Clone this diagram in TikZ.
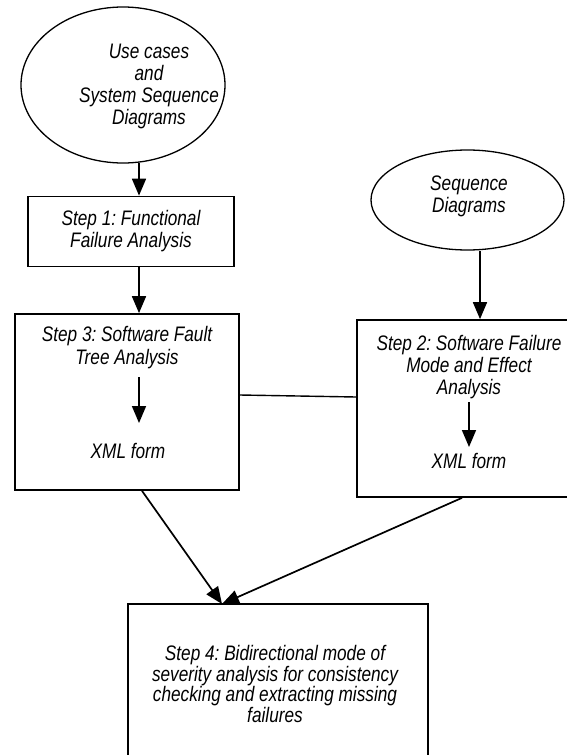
\documentclass[tikz,border=0pt]{standalone}
\usepackage{fontspec}
\setmainfont{Liberation Sans}[FakeStretch=0.82]
\usetikzlibrary{arrows.meta,shapes.geometric}
\frenchspacing

\begin{document}
\begin{tikzpicture}[x=1pt,y=-1pt,
    txt/.style={font=\fontsize{21}{22}\selectfont\itshape, align=center, inner sep=0pt},
    blk/.style={draw, line width=1.7pt, inner sep=0pt},
    oval/.style={draw, ellipse, line width=1.3pt, inner sep=0pt},
    arr/.style={line width=1.7pt, -{Triangle[length=17pt,width=14pt]}},
    lnk/.style={line width=1.4pt}]

\useasboundingbox (0,0) rectangle (567,755);
\clip (0,0) rectangle (567,755);

% Исходные данные
\node[oval, minimum width=204, minimum height=156] (uc) at (123,85) {};
\node[txt] (uctxt) at (149,86) {Use cases\\and\\System Sequence\\Diagrams};

\node[oval, minimum width=193, minimum height=100] (sd) at (467.5,200) {};
\node[txt] (sdtxt) at (469,196.5) {Sequence\\Diagrams};

% Шаги
\node[blk, txt, minimum width=206, minimum height=70] (s1) at (131,231.5)
    {Step 1: Functional\\Failure Analysis};

\node[blk, minimum width=224, minimum height=176] (s3) at (127,402) {};
\node[txt, font=\fontsize{21}{23}\selectfont\itshape] (s3txt) at (127,348)
    {Step 3: Software Fault\\Tree Analysis};
\node[txt] (s3xml) at (128,451) {XML form};

\node[blk, minimum width=213, minimum height=177] (s2) at (463.5,408.5) {};
\node[txt] (s2txt) at (469,367) {Step 2: Software Failure\\Mode and Effect\\Analysis};
\node[txt] (s2xml) at (469,461) {XML form};

\node[blk, minimum width=300, minimum height=196] (s4) at (278,702) {};
\node[txt, font=\fontsize{21}{20.5}\selectfont\itshape] (s4txt) at (275,684)
    {Step 4: Bidirectional mode of\\severity analysis for consistency\\checking and extracting missing\\failures};

% Оси стрелок
\coordinate (lax) at (139,0);
\coordinate (sax) at (480,0);
\coordinate (s3a) at (139,377);
\coordinate (s3b) at (139,423);
\coordinate (s2a) at (469,402);
\coordinate (s2b) at (469,447);
\coordinate (meet) at (222,604);

% Стрелки
\draw[arr] (uc.-79 -| lax) -- (lax |- s1.north);
\draw[arr] (lax |- s1.south) -- (lax |- s3.north);
\draw[arr] (s3a) -- (s3b);
\draw[arr] (sax |- sd.south) -- (sax |- s2.north);
\draw[arr] (s2a) -- (s2b);

\draw[lnk] ([yshift=7pt]s3.east) -- ([yshift=11.5pt]s2.west);

\draw[arr] ([xshift=15pt]s3.south) -- (meet);
\draw[arr] ([xshift=-1.5pt]s2.south) -- (meet);

\end{tikzpicture}
\end{document}
